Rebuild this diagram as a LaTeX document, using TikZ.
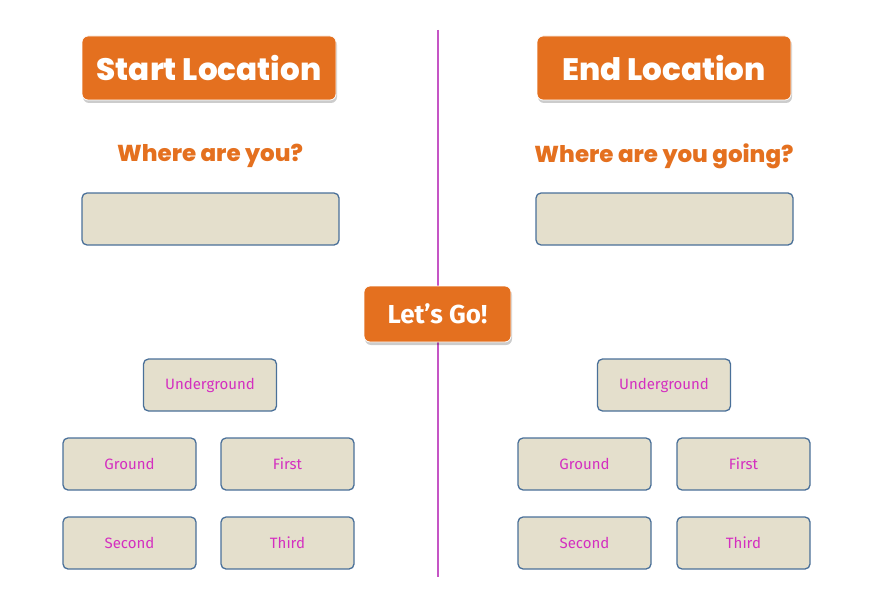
\documentclass[tikz,border=0pt]{standalone}
\usepackage{fontspec}
\setmainfont{Fira Sans}
\newfontfamily\titlefont{Poppins}[UprightFont=* ExtraBold]
\usetikzlibrary{shadows}
\definecolor{orng}{HTML}{E4701F}
\definecolor{boxfill}{HTML}{E4DFCC}
\definecolor{boxline}{HTML}{4A7099}
\definecolor{lbl}{HTML}{D42FC0}
\definecolor{divider}{HTML}{C555C5}
\tikzset{
  x=1pt, y=-1pt,
  titlebtn/.style={fill=orng, draw=white, line width=0.8pt, rounded corners=6pt,
    minimum width=254pt, minimum height=64pt, text=white,
    font=\titlefont\fontsize{31}{34}\selectfont,
    drop shadow={shadow xshift=1pt, shadow yshift=-3pt, fill=black, opacity=0.2}},
  gobtn/.style={fill=orng, draw=white, line width=0.8pt, rounded corners=6pt,
    minimum width=147pt, minimum height=56pt, text=white,
    font=\bfseries\fontsize{26}{29}\selectfont,
    drop shadow={shadow xshift=1pt, shadow yshift=-3pt, fill=black, opacity=0.2}},
  question/.style={text=orng, font=\titlefont\fontsize{23}{26}\selectfont},
  inputbox/.style={fill=boxfill, draw=boxline, line width=1.3pt, rounded corners=5pt,
    minimum width=257pt, minimum height=52pt},
  floorbtn/.style={fill=boxfill, draw=boxline, line width=1.3pt, rounded corners=5pt,
    minimum width=133pt, minimum height=52pt, text=lbl,
    font=\fontsize{15}{17}\selectfont},
}
\begin{document}
\begin{tikzpicture}
\useasboundingbox (0,0) rectangle (874,596);
\coordinate (ltop) at (438,30);
\coordinate (lbot) at (438,577);
\draw[divider, line width=2.5pt] (ltop) -- (lbot);

\node[titlebtn] (startloc) at (209,68) {\raisebox{-2pt}{Start Location}};
\node[titlebtn] (endloc) at (664,68) {\raisebox{-2pt}{End Location}};

\node[question] (q1) at (210,156) {Where are you?};
\node[question] (q2) at (664,156) {Where are you going?};

\node[inputbox] (in1) at (210.5,219) {};
\node[inputbox] (in2) at (664.5,219) {};

\node[gobtn] (go) at (437.5,314) {Let’s Go!};

\node[floorbtn] (u1) at (210,385) {\raisebox{-1.5pt}{Underground}};
\node[floorbtn] (g1) at (129.5,464) {\raisebox{-1.5pt}{Ground}};
\node[floorbtn] (f1) at (287.5,464) {\raisebox{-1.5pt}{First}};
\node[floorbtn] (s1) at (129.5,543) {\raisebox{-1.5pt}{Second}};
\node[floorbtn] (t1) at (287.5,543) {\raisebox{-1.5pt}{Third}};

\node[floorbtn] (u2) at (664,385) {\raisebox{-1.5pt}{Underground}};
\node[floorbtn] (g2) at (584.5,464) {\raisebox{-1.5pt}{Ground}};
\node[floorbtn] (f2) at (743.5,464) {\raisebox{-1.5pt}{First}};
\node[floorbtn] (s2) at (584.5,543) {\raisebox{-1.5pt}{Second}};
\node[floorbtn] (t2) at (743.5,543) {\raisebox{-1.5pt}{Third}};
\end{tikzpicture}
\end{document}
